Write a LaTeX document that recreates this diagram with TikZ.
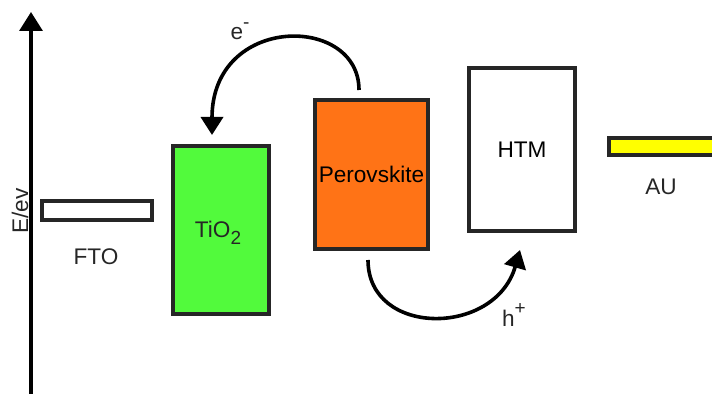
\documentclass[tikz,border=0pt]{standalone}
\usepackage{fontspec}
\setmainfont{Liberation Sans}
\usetikzlibrary{arrows.meta,calc,positioning}
\definecolor{tiogreen}{RGB}{82,250,60}
\definecolor{perorange}{RGB}{255,115,22}
\definecolor{auyellow}{RGB}{255,255,0}
\definecolor{edge}{RGB}{38,38,38}
\newcommand{\chargeup}[1]{\raisebox{0.5em}{\fontsize{9.5}{10}\selectfont #1}}

\begin{document}
\begin{tikzpicture}[x=0.5pt,y=-0.5pt,
    layer/.style={draw=edge,line width=2pt,inner sep=0pt,
      font=\fontsize{11.3}{13}\selectfont},
    lbl/.style={font=\fontsize{11.3}{13}\selectfont,text=black!85,inner sep=0pt},
    flow/.style={line width=1.8pt,-{Triangle[length=9pt,width=11pt]}}]
  \useasboundingbox (0,0) rectangle (712,394);

  \coordinate (axisbot) at (31,396);
  \coordinate (axistop) at (31,12);
  \draw[line width=1.65pt,-{Triangle[length=9.5pt,width=11.5pt]}] (axisbot)--(axistop);
  \node[lbl,rotate=90] (elabel) at (20,211) {E/ev};

  \node[layer,minimum width=55pt,minimum height=9.5pt] (fto) at (96.5,211) {};
  \node[layer,fill=tiogreen,minimum width=48pt,minimum height=84pt] (tio) at (221,230) {};
  \node[layer,fill=perorange,minimum width=56.5pt,minimum height=74.5pt] (pero) at (371.5,174.5) {Perovskite};
  \node[layer,fill=white,minimum width=53pt,minimum height=81.5pt] (htm) at (522,149.5) {HTM};
  \node[layer,fill=auyellow,minimum width=54pt,minimum height=8.5pt] (au) at (663,146.5) {};

  \node[lbl] (ftolabel) at (96,257) {FTO};
  \node[lbl] (tiolabel) at (218,233) {TiO\raisebox{-0.3em}{\fontsize{9.5}{10}\selectfont 2}};
  \node[lbl] (aulabel) at (661,187) {AU};

  \draw[flow] ([xshift=-6.25pt,yshift=4pt]pero.north)
    .. controls +(0,-76) and +(0,-121) .. ([xshift=-4.5pt,yshift=4.5pt]tio.north);
  \draw[flow] ([xshift=-1.75pt,yshift=-4.5pt]pero.south)
    .. controls +(0,77) and +(-25,87) .. ([xshift=-1pt,yshift=-8.5pt]htm.south);

  \node[lbl] (elec) at (240,31) {e\chargeup{-}};
  \node[lbl] (hole) at (514,315) {h\chargeup{+}};
\end{tikzpicture}
\end{document}
